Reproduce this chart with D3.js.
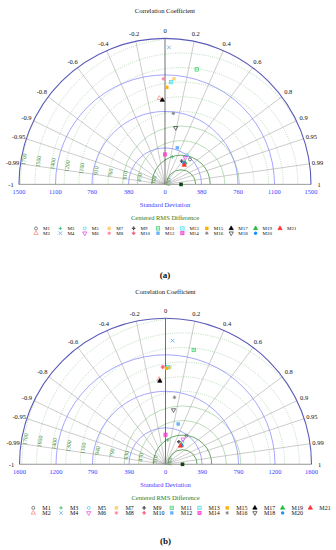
<!DOCTYPE html>
<html lang="en">
<head>
<meta charset="utf-8" />
<title>Taylor diagrams</title>
<style>
  body { margin: 0; padding: 0; background: #fff; }
  svg { display: block; font-family: "Liberation Serif", "DejaVu Serif", serif; }
</style>
</head>
<body>
<div id="chart"></div>
<script src="https://d3js.org/d3.v7.min.js"></script>
<script>
// models and their markers
const models = ['M1','M2','M3','M4','M5','M6','M7','M8','M9','M10','M11','M12','M13','M14','M15','M16','M17','M18','M19','M20','M21'];
const shapes = ['circleO','triO','plus','cross','circleO','triDownO','square','star','plusB','plusB','squareX','square','squareX','squareO','square','star','tri','triDownO','tri','circle','tri'];
const colors = ['#555','#ff8080','#3cb371','#4aa3df','#33d6e6','#e040e0','#ffd27a','#ff6f8f','#555','#ff5f7f','#33cc66','#66b3ff','#33ddee','#ff33cc','#ffb000','#777','#000','#333','#22bb44','#1e90ff','#ff3030'];

const corrTicks = [-1,-0.99,-0.95,-0.9,-0.8,-0.6,-0.4,-0.2,0,0.2,0.4,0.6,0.8,0.9,0.95,0.99,1];

// panel (a)
const stdMaxA = 1520;
const stdTickLabelsA = ['0','380','760','1100','1500'];
const rmsLabelsA = ['150','300','450','610','760','910','1100','1200','1400','1500','1700'];
const refStdA = 167;
const stdA  = [368, 900, 297, 1427, 381, 349, 1103, 1099, 298, 290, 1242, 402, 1067, 312, 1010, 744, 878, 600, 306, 300, 284];
const corrA = [0.707, -0.066, 0.256, 0.029, 0.60, 0.606, 0.085, -0.016, 0.582, 0.68, 0.266, 0.319, 0.059, 0.0, 0.018, 0.116, -0.032, 0.186, 0.68, 0.66, 0.707];

// panel (b)
const stdMaxB = 1580;
const stdTickLabelsB = ['0','390','790','1200','1600'];
const rmsLabelsB = ['160','310','470','630','790','940','1100','1300','1400','1600','1700'];
const refStdB = 184;
const stdB  = [384, 925, 264, 1340, 303, 331, 1051, 1056, 284, 1052, 1274, 457, 1050, 320, 1039, 731, 903, 594, 271, 268, 256];
const corrB = [0.59, -0.075, 0.094, 0.057, 0.606, 0.575, 0.044, -0.025, 0.507, -0.03, 0.24, 0.30, 0.027, 0.0, 0.01, 0.133, -0.068, 0.146, 0.64, 0.65, 0.63];

const W = 336, H = 550;
const svg = d3.select('#chart').append('svg').attr('width', W).attr('height', H);
svg.append('rect').attr('width', W).attr('height', H).attr('fill', '#fff');

function symbol(g, shape, color, x, y) {
  const s = 1.8;
  const tri = d3.symbol().type(d3.symbolTriangle).size(8)();
  if (shape === 'circleO') g.append('circle').attr('cx', x).attr('cy', y).attr('r', 1.5).attr('fill', 'none').attr('stroke', color).attr('stroke-width', 0.7);
  else if (shape === 'circle') g.append('circle').attr('cx', x).attr('cy', y).attr('r', 1.7).attr('fill', color);
  else if (shape === 'triO' || shape === 'tri' || shape === 'triDownO') {
    g.append('path').attr('d', tri)
      .attr('transform', `translate(${x},${y})` + (shape === 'triDownO' ? ' rotate(180)' : ''))
      .attr('fill', shape === 'tri' ? color : 'none').attr('stroke', color).attr('stroke-width', 0.7);
  } else if (shape === 'plus' || shape === 'plusB') {
    g.append('path').attr('d', `M${x - s},${y}H${x + s}M${x},${y - s}V${y + s}`)
      .attr('stroke', color).attr('stroke-width', shape === 'plusB' ? 1.4 : 0.8);
  } else if (shape === 'cross') {
    g.append('path').attr('d', `M${x - s},${y - s}L${x + s},${y + s}M${x - s},${y + s}L${x + s},${y - s}`)
      .attr('stroke', color).attr('stroke-width', 0.7);
  } else if (shape === 'star') {
    g.append('path').attr('d', `M${x - s},${y}H${x + s}M${x},${y - s}V${y + s}M${x - 1.3},${y - 1.3}L${x + 1.3},${y + 1.3}M${x - 1.3},${y + 1.3}L${x + 1.3},${y - 1.3}`)
      .attr('stroke', color).attr('stroke-width', 0.7);
  } else if (shape === 'square') {
    g.append('rect').attr('x', x - 1.7).attr('y', y - 1.7).attr('width', 3.4).attr('height', 3.4).attr('fill', color);
  } else if (shape === 'squareO') {
    g.append('rect').attr('x', x - 1.6).attr('y', y - 1.6).attr('width', 3.2).attr('height', 3.2).attr('fill', color).attr('fill-opacity', 0.6).attr('stroke', color).attr('stroke-width', 0.7);
  } else if (shape === 'squareX') {
    g.append('rect').attr('x', x - 1.7).attr('y', y - 1.7).attr('width', 3.4).attr('height', 3.4).attr('fill', 'none').attr('stroke', color).attr('stroke-width', 0.7);
    g.append('path').attr('d', `M${x - 1},${y - 1}L${x + 1},${y + 1}M${x - 1},${y + 1}L${x + 1},${y - 1}`).attr('stroke', color).attr('stroke-width', 0.5);
  }
}

function halfCircle(x, y, rad) {
  return `M${x - rad},${y}A${rad},${rad} 0 0 1 ${x + rad},${y}`;
}

function panel(o) {
  const g = svg.append('g');
  const cx = o.cx, cy = o.cy, R = o.R;
  const r = d3.scaleLinear().domain([0, o.stdMax]).range([0, R]);
  const px = (s, c) => cx + r(s) * c;
  const py = (s, c) => cy - r(s) * Math.sqrt(Math.max(0, 1 - c * c));
  const id = 'clip' + o.name;

  g.append('clipPath').attr('id', id).append('path')
    .attr('d', halfCircle(cx, cy, R) + 'Z');

  // centered RMS arcs
  const step = o.stdMax / 10;
  const refX = px(o.refStd, 1);
  const rms = g.append('g').attr('clip-path', `url(#${id})`);
  o.rmsLabels.forEach((lab, i) => {
    const rr = r(step * (i + 1));
    rms.append('path')
      .attr('d', halfCircle(refX, cy, rr))
      .attr('fill', 'none')
      .attr('stroke', i < 2 ? '#3d8f3d' : '#9fcf9f')
      .attr('stroke-width', i < 2 ? 0.8 : 0.7)
      .attr('stroke-dasharray', i < 4 ? null : '1,1.2');
  });

  // std arcs
  [0.25, 0.5, 0.75].forEach(f => {
    g.append('path').attr('d', halfCircle(cx, cy, R * f))
      .attr('fill', 'none').attr('stroke', '#8f8fff').attr('stroke-width', 0.8);
  });

  // correlation radial lines
  corrTicks.forEach(c => {
    g.append('line').attr('x1', cx).attr('y1', cy)
      .attr('x2', px(o.stdMax, c)).attr('y2', py(o.stdMax, c))
      .attr('stroke', c === 0 ? '#333' : '#999').attr('stroke-width', c === 0 ? 0.7 : 0.5);
  });

  // baseline and outer arc
  g.append('line').attr('x1', cx - R).attr('x2', cx + R).attr('y1', cy).attr('y2', cy)
    .attr('stroke', '#999').attr('stroke-width', 0.8);
  g.append('path').attr('d', halfCircle(cx, cy, R))
    .attr('fill', 'none').attr('stroke', '#5a5ab8').attr('stroke-width', 1.1);

  // RMS labels
  o.rmsLabels.forEach((lab, i) => {
    const rr = r(step * (i + 1));
    const a = 171 * Math.PI / 180;
    const lx = refX + rr * Math.cos(a) + 1.5, ly = cy - rr * Math.sin(a);
    g.append('text').attr('x', lx).attr('y', ly)
      .attr('transform', `rotate(-82,${lx},${ly})`)
      .attr('text-anchor', 'middle').attr('dominant-baseline', 'central')
      .attr('font-size', 5.8).attr('fill', '#3c8c3c').text(lab);
  });

  // correlation labels
  corrTicks.forEach(c => {
    g.append('text').attr('x', px(o.stdMax * 1.055, c)).attr('y', py(o.stdMax * 1.055, c))
      .attr('text-anchor', 'middle').attr('dominant-baseline', 'central')
      .attr('font-size', 6.5).attr('fill', '#111').text(String(c));
  });

  // std tick labels
  o.stdTickLabels.forEach((lab, i) => {
    [-1, 1].forEach(sg => {
      if (i === 0 && sg < 0) return;
      g.append('text').attr('x', cx + sg * R * i / 4).attr('y', cy + 10)
        .attr('text-anchor', 'middle').attr('font-size', 6.5).attr('fill', '#3a3aff').text(lab);
    });
  });

  g.append('text').attr('x', cx).attr('y', o.titleY).attr('text-anchor', 'middle')
    .attr('font-size', 6.5).attr('fill', '#111').text('Correlation Coefficient');
  g.append('text').attr('x', cx).attr('y', cy + 23).attr('text-anchor', 'middle')
    .attr('font-size', 6.5).attr('fill', '#3a3aff').text('Standard Deviation');
  g.append('text').attr('x', cx).attr('y', cy + 36).attr('text-anchor', 'middle')
    .attr('font-size', 6.5).attr('fill', '#2a7a2a').text('Centered RMS Difference');

  // reference point
  g.append('rect').attr('x', refX - 1.8).attr('y', cy - 1.8).attr('width', 3.6).attr('height', 3.6).attr('fill', '#114411');

  // model points
  models.forEach((m, i) => symbol(g, shapes[i], colors[i], px(o.std[i], o.corr[i]), py(o.std[i], o.corr[i])));

  // legend
  models.forEach((m, i) => {
    const col = Math.floor(i / 2), row = i % 2;
    const x = o.legX + col * o.legDx, y = o.legY + row * o.legDy;
    symbol(g, shapes[i], colors[i], x, y - 1.6);
    g.append('text').attr('x', x + o.legTx).attr('y', y).attr('font-size', o.legFont).attr('fill', '#111').text(m);
  });

  g.append('text').attr('x', cx).attr('y', o.capY).attr('text-anchor', 'middle')
    .attr('font-size', 9).attr('font-weight', 'bold').attr('fill', '#111').text(o.caption);
}

panel({ name: 'a', cx: 165, cy: 184.4, R: 146, stdMax: stdMaxA, stdTickLabels: stdTickLabelsA,
  rmsLabels: rmsLabelsA, refStd: refStdA, std: stdA, corr: corrA, titleY: 13,
  legX: 36, legDx: 24.4, legY: 230, legDy: 4.8, legTx: 7, legFont: 5, capY: 278, caption: '(a)' });
panel({ name: 'b', cx: 165.5, cy: 464.3, R: 146, stdMax: stdMaxB, stdTickLabels: stdTickLabelsB,
  rmsLabels: rmsLabelsB, refStd: refStdB, std: stdB, corr: corrB, titleY: 294,
  legX: 33.3, legDx: 27.7, legY: 509.5, legDy: 5, legTx: 9, legFont: 6, capY: 544, caption: '(b)' });
</script>
</body>
</html>
